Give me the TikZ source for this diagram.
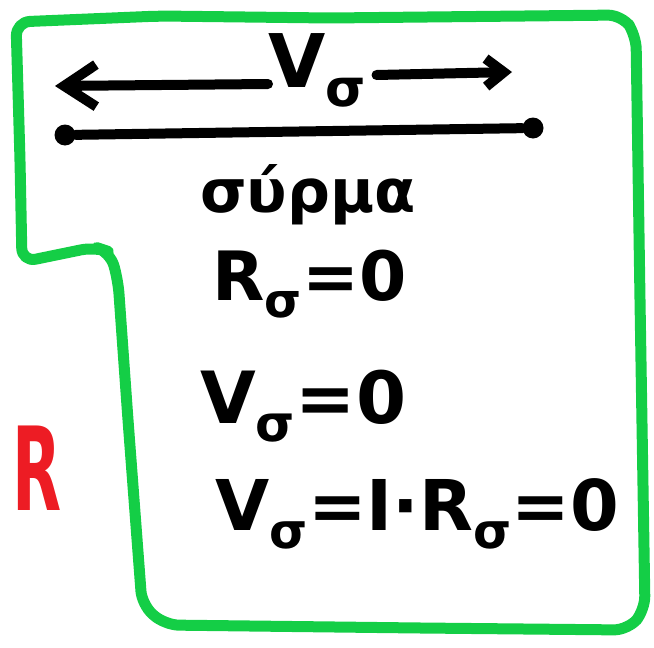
\documentclass[tikz,border=0pt]{standalone}
\usepackage{fontspec}
\setmainfont{DejaVu Sans}
\usepackage{xcolor}
\usetikzlibrary{arrows.meta, positioning}

\definecolor{penGreen}{RGB}{20,206,70}
\definecolor{penRed}{RGB}{237,28,36}
\newcommand{\Vsub}{V\textsubscript{σ}}
\newcommand{\Rsub}{R\textsubscript{σ}}

\begin{document}
\begin{tikzpicture}[
    x=1pt, y=-1pt,
    ink/.style={line width=10pt, line cap=round, line join=round},
    outline/.style={draw=penGreen, line width=11pt, rounded corners=14pt, line join=round},
    dot/.style={circle, fill, inner sep=0pt, minimum size=21pt},
    hand/.style={inner sep=0pt, anchor=base west},
]
    \useasboundingbox (0,0) rectangle (654,648);

    % green border
    \draw[outline] (16,22) -- (160,16) -- (330,18) -- (622,15) -- (636,35)
        -- (640,300) -- (645,610) -- (628,630) -- (420,628) -- (165,625)
        -- (142,605) -- (128,420) -- (118,280) -- (110,252) -- (95,247)
        -- (22,262) -- (20,160) -- cycle;

    % voltage arrow
    \node[hand, font=\bfseries\fontsize{74}{74}\selectfont] (vlab) at (268,87) {\Vsub};
    \coordinate (la) at (55,86);
    \coordinate (ra) at (512,72);
    \draw[ink, -{Straight Barb[length=32pt, width=42pt]}]
        ([yshift=3pt]vlab.base west) -- (la);
    \draw[ink, -{Straight Barb[length=18pt, width=28pt]}]
        ([xshift=10pt, yshift=12pt]vlab.base east) -- (ra);

    % wire
    \node[dot] (wa) at (65,135) {};
    \node[dot] (wb) at (533,128) {};
    \draw[ink] (wa) -- (wb);

    % texts
    \node[hand, font=\bfseries\fontsize{60}{60}\selectfont] (wire) at (200,212) {σύρμα};
    \node[hand, font=\bfseries\fontsize{68}{68}\selectfont] (res) at (212,300) {\Rsub=0};
    \node[hand, font=\bfseries\fontsize{72}{72}\selectfont] (volt) at (200,423) {\Vsub=0};
    \node[hand, font=\bfseries\fontsize{70}{70}\selectfont] (ohm) at (215,530) {\Vsub=I·\Rsub=0};
    \node[hand, text=penRed, font=\bfseries\fontsize{116}{116}\selectfont] (rlab) at (12,510)
        {\scalebox{0.55}[1]{R}};
\end{tikzpicture}
\end{document}
